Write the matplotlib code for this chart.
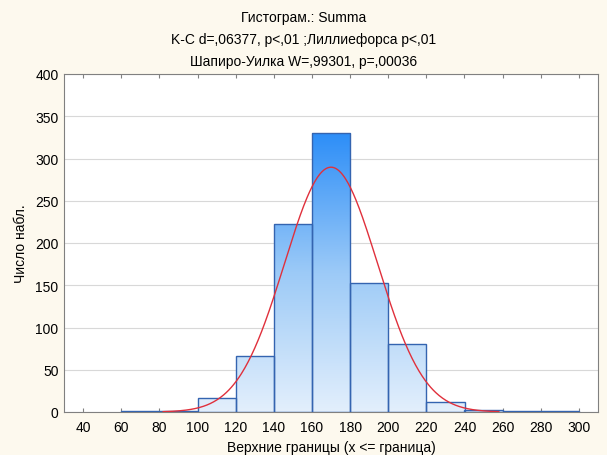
import numpy as np
import matplotlib.pyplot as plt
from matplotlib.colors import LinearSegmentedColormap

# ====================
# 数据
# ====================
bin_edges = [40, 60, 80, 100, 120, 140, 160, 180, 200, 220, 240, 260, 280, 300]
counts = [0, 1, 1, 17, 66, 222, 330, 153, 80, 12, 2, 1, 1]
fit_mean = 170.0
fit_sd = 24.4
n_total = sum(counts)

x_ticks = [40, 60, 80, 100, 120, 140, 160, 180, 200, 220, 240, 260, 280, 300]
y_ticks = [0, 50, 100, 150, 200, 250, 300, 350, 400]

title_lines = [
    "Гистограм.: Summa",
    "K-C d=,06377, p<,01 ;Лиллиефорса p<,01",
    "Шапиро-Уилка W=,99301, p=,00036",
]

plt.rcParams['font.family'] = ['Liberation Sans', 'DejaVu Sans']
plt.rcParams['font.size'] = 10

bg = '#fdf9ee'
fig = plt.figure(figsize=(6.07, 4.56), dpi=100, facecolor=bg)
ax = fig.add_axes([64 / 607, 1 - 413 / 456, (598 - 64) / 607, (413 - 75) / 456])
ax.set_facecolor('white')

ax.set_xlim(30, 310)
ax.set_ylim(0, 400)

# 渐变填充的柱子
cmap = LinearSegmentedColormap.from_list('bars', ['#e3effc', '#9ccaf7', '#2d8ef7'])
grad = np.linspace(0, 1, 256).reshape(-1, 1)
for left, right, c in zip(bin_edges[:-1], bin_edges[1:], counts):
    if c <= 0:
        continue
    rect = ax.bar(left, c, width=right - left, align='edge',
                  facecolor='none', edgecolor='#3464b0', linewidth=1.0, zorder=3)[0]
    im = ax.imshow(grad, cmap=cmap, extent=[30, 310, 0, 330], origin='lower',
                   aspect='auto', zorder=2, interpolation='bilinear')
    im.set_clip_path(rect)

# 正态拟合曲线
xs = np.linspace(82, 258, 400)
ys = n_total * 20 / (fit_sd * np.sqrt(2 * np.pi)) * np.exp(-0.5 * ((xs - fit_mean) / fit_sd) ** 2)
ax.plot(xs, ys, color='#e0303c', linewidth=1.0, zorder=4)

ax.set_xticks(x_ticks)
ax.set_yticks(y_ticks)
ax.yaxis.grid(True, color='#d8d8d8', linewidth=0.8, zorder=0)
ax.set_axisbelow(True)
ax.tick_params(axis='x', direction='in', top=True, length=3, color='#808080', pad=6)
ax.tick_params(axis='y', length=0, pad=4)
for s in ax.spines.values():
    s.set_color('#808080')

ax.set_xlabel("Верхние границы (x <= граница)", labelpad=4)
ax.set_ylabel("Число набл.", labelpad=5)

for i, t in enumerate(title_lines):
    fig.text(0.5, 1 - (18 + i * 22) / 456, t, ha='center', va='center', fontsize=10)

fig.savefig('out.png', dpi=100, facecolor=bg)
